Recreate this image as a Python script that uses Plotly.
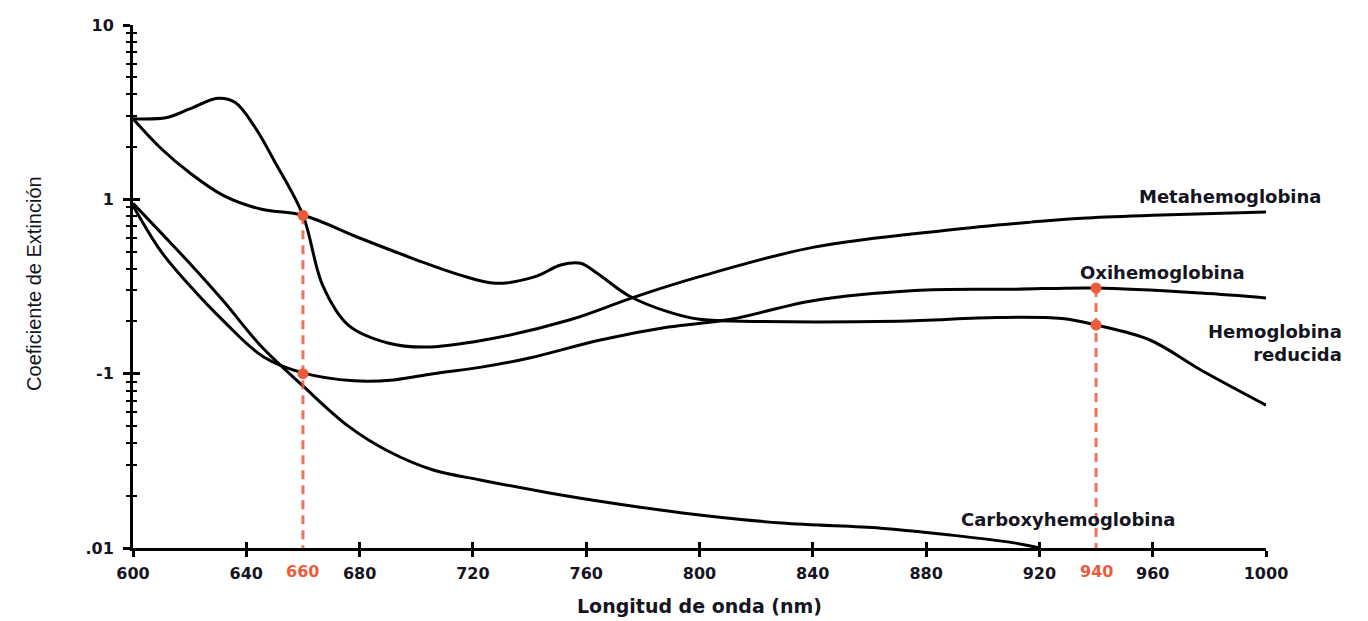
import plotly.graph_objects as go

# ---------------- data ----------------
wl_met = [600, 612, 620, 630, 636, 643, 650, 660, 667, 676, 690, 703, 724, 754, 777, 800, 840, 888, 917, 935, 960, 1000]
met = [2.9, 2.95, 3.3, 3.8, 3.6, 2.6, 1.65, 0.81, 0.32, 0.19, 0.15, 0.142, 0.156, 0.203, 0.275, 0.36, 0.53, 0.667, 0.74, 0.78, 0.81, 0.845]

wl_red = [600, 610, 620, 632, 645, 660, 680, 700, 715, 728, 742, 751, 758, 764, 775, 789, 800, 815, 870, 905, 928, 940, 959, 977, 1000]
red = [2.9, 1.95, 1.42, 1.05, 0.88, 0.81, 0.6, 0.45, 0.37, 0.33, 0.36, 0.42, 0.43, 0.375, 0.28, 0.226, 0.205, 0.2, 0.2, 0.21, 0.207, 0.19, 0.156, 0.105, 0.066]

wl_oxy = [600, 610, 620, 632, 646, 660, 678, 692, 706, 723, 740, 765, 789, 811, 840, 876, 911, 940, 977, 1000]
oxy = [0.92, 0.5, 0.32, 0.2, 0.125, 0.101, 0.091, 0.092, 0.1, 0.109, 0.123, 0.156, 0.185, 0.205, 0.262, 0.3, 0.305, 0.31, 0.29, 0.272]

wl_co = [600, 610, 620, 632, 645, 660, 676, 690, 706, 723, 747, 770, 794, 829, 864, 888, 911, 920]
co = [0.95, 0.64, 0.43, 0.26, 0.145, 0.085, 0.05, 0.036, 0.028, 0.0245, 0.0207, 0.018, 0.0159, 0.0139, 0.013, 0.0119, 0.0107, 0.01]

# measuring wavelengths (pulse oximetry) and the points marked on the curves
guide_wl = [660, 940]
guide_top = [0.81, 0.31]
axis_floor = 0.01
dot_wl = [660, 660, 940, 940]
dot_val = [0.81, 0.1, 0.31, 0.19]

x_ticks = [600, 640, 680, 720, 760, 800, 840, 880, 920, 960, 1000]
y_ticks = [0.01, 0.1, 1, 10]
y_ticktext = [".01", "-1", "1", "10"]
y_minor = [m * d for d in (0.01, 0.1, 1) for m in range(2, 10)]

labels = ["Metahemoglobina", "Oxihemoglobina", "Hemoglobina<br>reducida", "Carboxyhemoglobina"]

# ---------------- figure ----------------
RED = "#EC5B3E"
INK = "#15151f"
fig = go.Figure()

curve_line = dict(color="black", width=3, shape="spline", smoothing=1.0)
for xs, ys, name in [(wl_met, met, labels[0]), (wl_red, red, labels[2]),
                     (wl_oxy, oxy, labels[1]), (wl_co, co, labels[3])]:
    fig.add_trace(go.Scatter(x=xs, y=ys, mode="lines", line=curve_line,
                             name=name.replace("<br>", " "), hoverinfo="x+y+name"))

for wl, top in zip(guide_wl, guide_top):
    fig.add_trace(go.Scatter(x=[wl, wl], y=[top, axis_floor], mode="lines",
                             line=dict(color=RED, width=3, dash="9px,6px"),
                             opacity=0.85, hoverinfo="skip"))

fig.add_trace(go.Scatter(x=dot_wl, y=dot_val, mode="markers",
                         marker=dict(color=RED, size=11, symbol="circle"),
                         hoverinfo="x+y"))

# helper trace so overlay axes (for crossing ticks) are drawn
fig.add_trace(go.Scatter(x=[None], y=[None], xaxis="x2", yaxis="y2",
                         mode="markers", hoverinfo="skip"))

tickfont = dict(family="DejaVu Sans", size=16, color=INK, weight="bold")

fig.update_layout(
    width=1368, height=621,
    margin=dict(l=133, r=102, t=25, b=73),
    plot_bgcolor="white", paper_bgcolor="white",
    showlegend=False,
    xaxis=dict(range=[600, 1000], tickvals=x_ticks, ticks="outside", ticklen=6,
               tickwidth=3, tickcolor="black", showline=True, linewidth=3,
               linecolor="black", showgrid=False, zeroline=False,
               tickfont=tickfont, ticklabelstandoff=3),
    yaxis=dict(type="log", range=[-2, 1], tickvals=y_ticks, ticktext=y_ticktext,
               ticks="outside", ticklen=7, tickwidth=3, tickcolor="black",
               minor=dict(tickvals=y_minor, ticks="outside", ticklen=4,
                          tickwidth=2, tickcolor="black"),
               showline=True, linewidth=3, linecolor="black", showgrid=False,
               zeroline=False, tickfont=tickfont, ticklabelstandoff=6),
    xaxis2=dict(overlaying="x", anchor="y", side="bottom", range=[600, 1000],
                tickvals=x_ticks, ticks="inside", ticklen=6, tickwidth=3,
                tickcolor="black", showticklabels=False, showline=False,
                showgrid=False, zeroline=False),
    yaxis2=dict(overlaying="y", anchor="x", side="left", type="log", range=[-2, 1],
                tickvals=y_ticks, ticks="inside", ticklen=7, tickwidth=3,
                tickcolor="black", showticklabels=False, showline=False,
                minor=dict(tickvals=y_minor, ticks="inside", ticklen=4,
                           tickwidth=2, tickcolor="black"),
                showgrid=False, zeroline=False),
)

label_font = dict(family="DejaVu Sans", size=18, color=INK, weight="bold")
# curve names
fig.add_annotation(text=labels[0], xref="paper", yref="paper", x=0.968, y=0.673,
                   showarrow=False, font=label_font, xanchor="center", yanchor="middle")
fig.add_annotation(text=labels[1], xref="paper", yref="paper", x=0.909, y=0.526,
                   showarrow=False, font=label_font, xanchor="center", yanchor="middle")
fig.add_annotation(text=labels[2], xref="paper", yref="paper", x=1.069, y=0.392,
                   showarrow=False, font=label_font, xanchor="right", yanchor="middle",
                   align="right")
fig.add_annotation(text=labels[3], xref="paper", yref="paper", x=0.825, y=0.054,
                   showarrow=False, font=label_font, xanchor="center", yanchor="middle")

# red wavelength labels on the x axis
for wl in guide_wl:
    fig.add_annotation(text=str(wl), xref="x", yref="paper", x=wl, y=0, yshift=-23,
                       showarrow=False, xanchor="center", yanchor="middle",
                       font=dict(family="DejaVu Sans", size=16, color=RED, weight="bold"))

# axis titles
fig.add_annotation(text="Longitud de onda (nm)", xref="paper", yref="paper",
                   x=0.5, y=0, yshift=-58, showarrow=False, xanchor="center",
                   yanchor="middle",
                   font=dict(family="DejaVu Sans", size=19, color=INK, weight="bold"))
fig.add_annotation(text="Coeficiente de Extinción", xref="paper", yref="paper",
                   x=0, xshift=-99, y=0.505, showarrow=False, textangle=-90,
                   xanchor="center", yanchor="middle",
                   font=dict(family="Liberation Sans", size=20, color=INK))

# remove the default page margin so the figure fills the window exactly
fig.write_html("out.html",
               config={"displayModeBar": False},
               post_script="document.body.style.margin='0';"
                           "document.documentElement.style.overflow='hidden';")
